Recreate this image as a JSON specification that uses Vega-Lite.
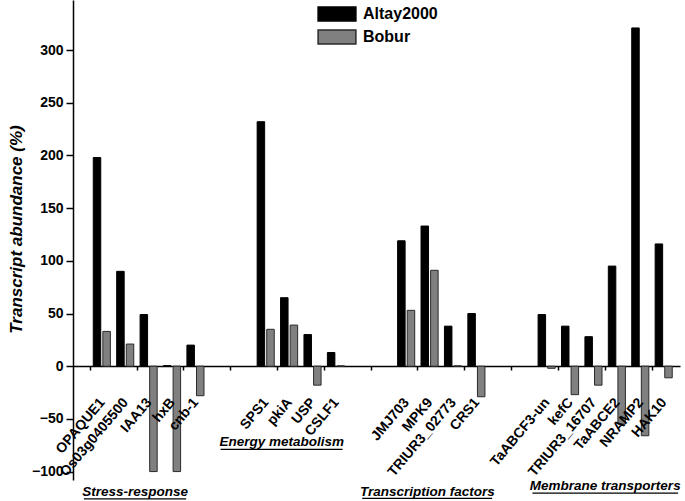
{
  "$schema": "https://vega.github.io/schema/vega-lite/v6.json",
  "width": 607,
  "height": 480,
  "autosize": {"type": "none"},
  "padding": {"left": 73, "top": 0, "right": 5, "bottom": 21},
  "config": {
    "view": {"stroke": null},
    "font": "Liberation Sans",
    "axis": {"domainColor": "#000", "tickColor": "#000", "domainWidth": 1.5, "tickWidth": 1.5, "grid": false, "labelColor": "#000", "titleColor": "#000"}
  },
  "datasets": {
    "bars": [
      {"gene": "OPAQUE1", "k": 1, "cultivar": "Altay2000", "value": 198},
      {"gene": "OPAQUE1", "k": 1, "cultivar": "Bobur", "value": 33},
      {"gene": "Os03g0405500", "k": 2, "cultivar": "Altay2000", "value": 90},
      {"gene": "Os03g0405500", "k": 2, "cultivar": "Bobur", "value": 21},
      {"gene": "IAA13", "k": 3, "cultivar": "Altay2000", "value": 49},
      {"gene": "IAA13", "k": 3, "cultivar": "Bobur", "value": -100},
      {"gene": "hxB", "k": 4, "cultivar": "Altay2000", "value": 0.5},
      {"gene": "hxB", "k": 4, "cultivar": "Bobur", "value": -100},
      {"gene": "cnb-1", "k": 5, "cultivar": "Altay2000", "value": 20},
      {"gene": "cnb-1", "k": 5, "cultivar": "Bobur", "value": -28},
      {"gene": "SPS1", "k": 8, "cultivar": "Altay2000", "value": 232},
      {"gene": "SPS1", "k": 8, "cultivar": "Bobur", "value": 35},
      {"gene": "pkiA", "k": 9, "cultivar": "Altay2000", "value": 65},
      {"gene": "pkiA", "k": 9, "cultivar": "Bobur", "value": 39},
      {"gene": "USP", "k": 10, "cultivar": "Altay2000", "value": 30},
      {"gene": "USP", "k": 10, "cultivar": "Bobur", "value": -18},
      {"gene": "CSLF1", "k": 11, "cultivar": "Altay2000", "value": 13},
      {"gene": "CSLF1", "k": 11, "cultivar": "Bobur", "value": 0.3},
      {"gene": "JMJ703", "k": 14, "cultivar": "Altay2000", "value": 119},
      {"gene": "JMJ703", "k": 14, "cultivar": "Bobur", "value": 53},
      {"gene": "MPK9", "k": 15, "cultivar": "Altay2000", "value": 133},
      {"gene": "MPK9", "k": 15, "cultivar": "Bobur", "value": 91},
      {"gene": "TRIUR3_02773", "k": 16, "cultivar": "Altay2000", "value": 38},
      {"gene": "TRIUR3_02773", "k": 16, "cultivar": "Bobur", "value": 0.3},
      {"gene": "CRS1", "k": 17, "cultivar": "Altay2000", "value": 50},
      {"gene": "CRS1", "k": 17, "cultivar": "Bobur", "value": -29},
      {"gene": "TaABCF3-un", "k": 20, "cultivar": "Altay2000", "value": 49},
      {"gene": "TaABCF3-un", "k": 20, "cultivar": "Bobur", "value": -2},
      {"gene": "kefC", "k": 21, "cultivar": "Altay2000", "value": 38},
      {"gene": "kefC", "k": 21, "cultivar": "Bobur", "value": -27},
      {"gene": "TRIUR3_16707", "k": 22, "cultivar": "Altay2000", "value": 28},
      {"gene": "TRIUR3_16707", "k": 22, "cultivar": "Bobur", "value": -18},
      {"gene": "TaABCE2", "k": 23, "cultivar": "Altay2000", "value": 95},
      {"gene": "TaABCE2", "k": 23, "cultivar": "Bobur", "value": -55},
      {"gene": "NRAMP2", "k": 24, "cultivar": "Altay2000", "value": 321},
      {"gene": "NRAMP2", "k": 24, "cultivar": "Bobur", "value": -66},
      {"gene": "HAK10", "k": 25, "cultivar": "Altay2000", "value": 116},
      {"gene": "HAK10", "k": 25, "cultivar": "Bobur", "value": -11}
    ],
    "groups": [
      {"label": "Stress-response", "mid": 2.44, "start": 0.25, "end": 4.62, "ty": -123.2, "uy": -126},
      {"label": "Energy metabolism", "mid": 8.7, "start": 6.09, "end": 11.3, "ty": -75.8, "uy": -79},
      {"label": "Transcription factors", "mid": 14.92, "start": 12.14, "end": 17.69, "ty": -123, "uy": -125.5},
      {"label": "Membrane transporters", "mid": 22.52, "start": 19.41, "end": 25.63, "ty": -117.5, "uy": -120.4}
    ]
  },
  "layer": [
    {
      "data": {"name": "bars"},
      "transform": [{"filter": "datum.cultivar === 'Altay2000'"}],
      "mark": {"type": "bar", "size": 7.5, "xOffset": -4.4, "strokeWidth": 1},
      "encoding": {
        "x": {"field": "k", "type": "quantitative", "scale": {"domain": [0, 25.5], "nice": false, "zero": false},
          "axis": {"title": null, "labels": false, "offset": -114, "values": [0.5,1,1.5,2,2.5,3,3.5,4,4.5,5,5.5,6,6.5,7,7.5,8,8.5,9,9.5,10,10.5,11,11.5,12,12.5,13,13.5,14,14.5,15,15.5,16,16.5,17,17.5,18,18.5,19,19.5,20,20.5,21,21.5,22,22.5,23,23.5,24,24.5,25,25.5],
            "tickSize": {"condition": {"test": "datum.value % 1 === 0", "value": 7}, "value": 4}}},
        "y": {"field": "value", "type": "quantitative", "scale": {"domain": [-108, 347.5], "nice": false},
          "axis": {"title": "Transcript abundance (%)", "titleFontSize": 17, "titleFontWeight": "bold", "titleFontStyle": "italic", "titlePadding": 6, "titleY": 229,
            "values": [-100,-75,-50,-25,0,25,50,75,100,125,150,175,200,225,250,275,300,325],
            "labelExpr": "datum.value % 50 === 0 ? datum.label : ''",
            "labelFontSize": 14, "labelFontWeight": "bold", "labelPadding": 3,
            "tickSize": {"condition": {"test": "datum.value % 50 === 0", "value": 7}, "value": 4}}},
        "fill": {"field": "cultivar", "type": "nominal", "scale": {"domain": ["Altay2000", "Bobur"], "range": ["#000000", "#808080"]},
          "legend": {"title": null, "orient": "none", "legendX": 256, "legendY": 6, "padding": 0,
            "symbolType": "M-2.7,-1H2.7V1H-2.7Z", "symbolSize": 196, "symbolStrokeWidth": 1.5,
            "labelFontSize": 16, "labelFontWeight": "bold", "labelColor": "#000", "labelOffset": 18, "rowPadding": 3}},
        "stroke": {"field": "cultivar", "type": "nominal", "scale": {"domain": ["Altay2000", "Bobur"], "range": ["#000000", "#2a2a2a"]}, "legend": {"title": null}}
      }
    },
    {
      "data": {"name": "bars"},
      "transform": [{"filter": "datum.cultivar === 'Bobur'"}],
      "mark": {"type": "bar", "size": 7.5, "xOffset": 5.2, "strokeWidth": 1},
      "encoding": {
        "x": {"field": "k", "type": "quantitative", "scale": {"domain": [0, 25.5], "nice": false, "zero": false}},
        "y": {"field": "value", "type": "quantitative", "scale": {"domain": [-108, 347.5], "nice": false}},
        "fill": {"field": "cultivar", "type": "nominal", "scale": {"domain": ["Altay2000", "Bobur"], "range": ["#000000", "#808080"]}},
        "stroke": {"field": "cultivar", "type": "nominal", "scale": {"domain": ["Altay2000", "Bobur"], "range": ["#000000", "#2a2a2a"]}}
      }
    },
    {
      "data": {"name": "bars"},
      "transform": [{"filter": "datum.cultivar === 'Altay2000'"}],
      "mark": {"type": "text", "angle": -50, "align": "right", "baseline": "middle", "dx": -25.4, "dy": 22.6, "fontSize": 14, "fontWeight": "bold", "color": "#000"},
      "encoding": {
        "x": {"field": "k", "type": "quantitative", "scale": {"domain": [0, 25.5], "nice": false, "zero": false}},
        "y": {"datum": 0, "type": "quantitative", "scale": {"domain": [-108, 347.5], "nice": false}},
        "text": {"field": "gene"}
      }
    },
    {
      "data": {"name": "groups"},
      "mark": {"type": "text", "align": "center", "baseline": "alphabetic", "fontSize": 13.5, "fontWeight": "bold", "fontStyle": "italic", "color": "#000"},
      "encoding": {
        "x": {"field": "mid", "type": "quantitative", "scale": {"domain": [0, 25.5], "nice": false, "zero": false}},
        "y": {"field": "ty", "type": "quantitative", "scale": {"domain": [-108, 347.5], "nice": false}},
        "text": {"field": "label"}
      }
    },
    {
      "data": {"name": "groups"},
      "mark": {"type": "rule", "color": "#000", "strokeWidth": 1.2},
      "encoding": {
        "x": {"field": "start", "type": "quantitative", "scale": {"domain": [0, 25.5], "nice": false, "zero": false}},
        "x2": {"field": "end"},
        "y": {"field": "uy", "type": "quantitative", "scale": {"domain": [-108, 347.5], "nice": false}}
      }
    }
  ]
}
